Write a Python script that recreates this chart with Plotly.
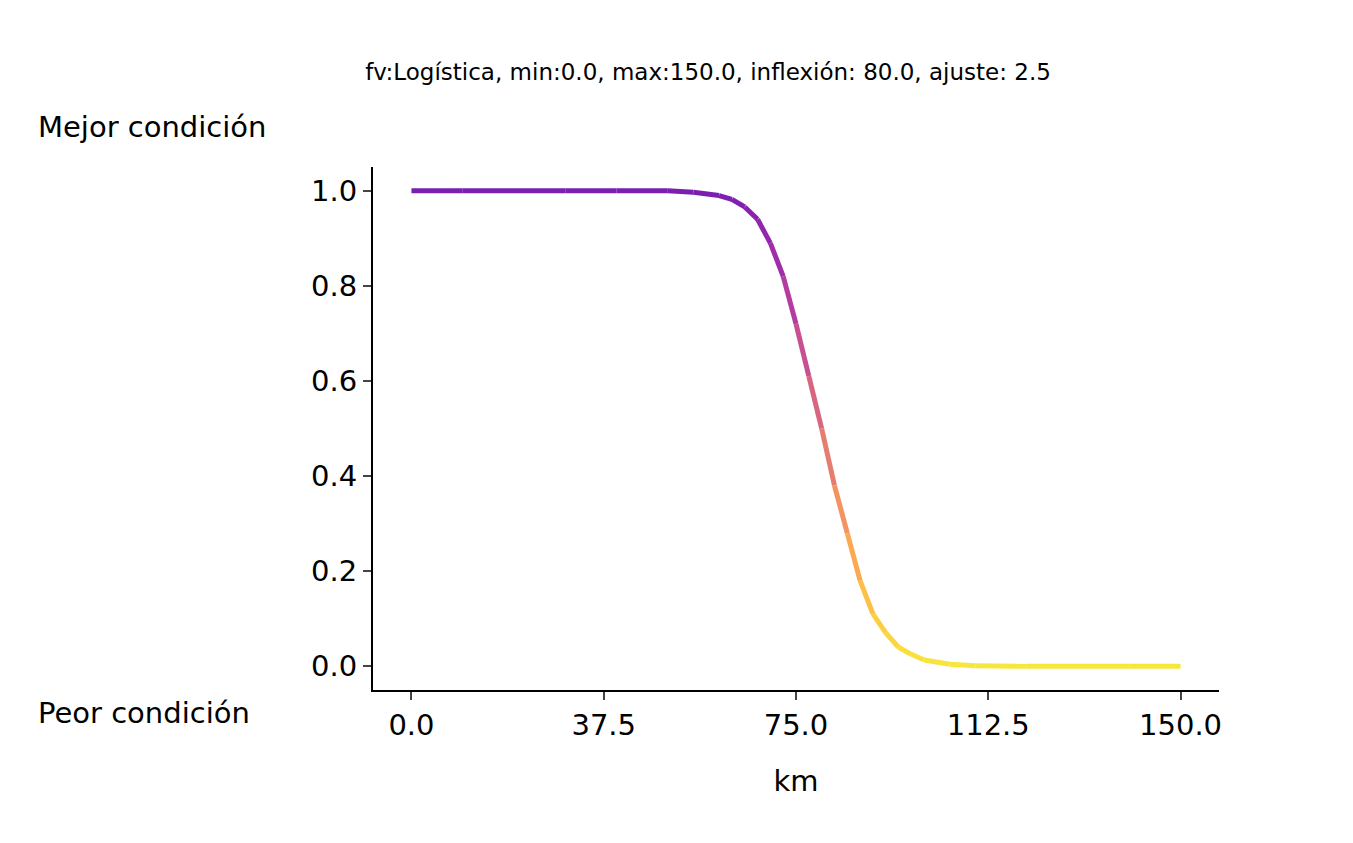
import plotly.graph_objects as go
from plotly.colors import sample_colorscale

km = [0, 10, 20, 30, 40, 50, 55, 60, 62.5, 65, 67.5, 70, 72.5, 75, 77.5, 80, 82.5, 85, 87.5, 90, 92.5, 95, 97.5, 100, 105, 110, 120, 130, 140, 150]
val = [1.0, 1.0, 1.0, 1.0, 1.0, 1.0, 0.997, 0.99, 0.982, 0.966, 0.94, 0.89, 0.82, 0.72, 0.61, 0.50, 0.38, 0.28, 0.18, 0.11, 0.07, 0.04, 0.025, 0.013, 0.004, 0.001, 0.0, 0.0, 0.0, 0.0]
xticks = [0.0, 37.5, 75.0, 112.5, 150.0]
yticks = [0.0, 0.2, 0.4, 0.6, 0.8, 1.0]

fig = go.Figure()
for i in range(len(km) - 1):
    t = 0.2 + 0.75 * (1 - (val[i] + val[i + 1]) / 2)
    c = sample_colorscale("Plasma", [t])[0]
    fig.add_trace(go.Scatter(x=[km[i], km[i + 1]], y=[val[i], val[i + 1]], mode="lines",
                             line=dict(color=c, width=5), opacity=0.88, showlegend=False,
                             hoverinfo="skip"))

ax = dict(showline=True, linecolor="black", linewidth=2, ticks="outside", ticklen=8, tickwidth=2,
          showgrid=False, zeroline=False, tickfont=dict(size=29, color="black"))
fig.update_layout(
    width=1353, height=843, plot_bgcolor="white", paper_bgcolor="white",
    margin=dict(l=365, r=142, t=159, b=161),
    font=dict(family="DejaVu Sans", color="black"),
    xaxis=dict(ax, range=[-7.5, 157.5], tickvals=xticks, ticktext=[f"{v:.1f}" for v in xticks],
               title=dict(text="km", font=dict(size=29), standoff=30)),
    yaxis=dict(ax, range=[-0.05, 1.05], tickvals=yticks, ticktext=[f"{v:.1f}" for v in yticks]),
    title=dict(text="fv:Logística, min:0.0, max:150.0, inflexión: 80.0, ajuste: 2.5",
               font=dict(size=23), x=700 / 1353, xanchor="center", y=1 - 64 / 843, yanchor="middle"),
    annotations=[
        dict(text="Mejor condición", xref="paper", yref="paper", x=-337 / 846, y=1 + 40 / 522,
             xanchor="left", yanchor="middle", showarrow=False, font=dict(size=29)),
        dict(text="Peor condición", xref="paper", yref="paper", x=-337 / 846, y=-23 / 522,
             xanchor="left", yanchor="middle", showarrow=False, font=dict(size=29)),
    ],
)
fig.write_html("out.html")
